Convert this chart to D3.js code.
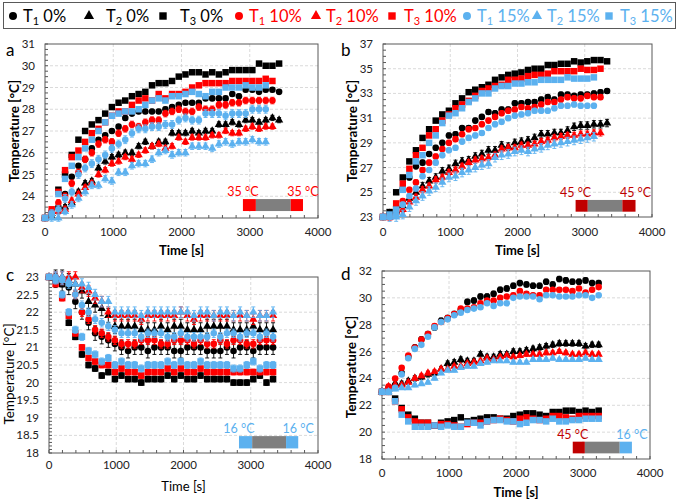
<!DOCTYPE html>
<html><head><meta charset="utf-8">
<script src="https://cdn.jsdelivr.net/npm/d3@7"></script>
<style>body{margin:0;background:#fff} svg{display:block}</style>
</head><body><svg id="chart" width="679" height="500"></svg>
<script>
// ---------- DATA ----------
const times = [0,98,196,294,392,490,588,686,784,882,980,1078,1176,1274,1372,1470,1568,1666,1764,1862,1960,2058,2156,2254,2352,2450,2548,2646,2744,2842,2940,3038,3136,3234,3332,3430];
const xTicks = [0,1000,2000,3000,4000];
const legendSubs = ["1","2","3","1","2","3","1","2","3"];
const legendPcts = ["0%","0%","0%","10%","10%","10%","15%","15%","15%"];

// panel a
const a_T1_0  = [23.0,23.1,23.5,24.1,24.9,25.4,25.7,26.2,26.6,26.8,27.0,27.2,27.6,27.8,27.9,27.9,27.9,27.9,28.0,28.1,28.2,28.3,28.3,28.3,28.5,28.5,28.5,28.5,28.7,28.6,28.9,28.9,28.8,28.9,28.9,28.8];
const a_T2_0  = [23.0,23.2,23.5,23.5,23.7,24.2,24.6,24.7,25.3,25.6,25.8,25.9,26.0,26.0,26.3,26.5,26.3,26.5,26.5,26.9,26.9,26.9,27.0,26.9,27.0,27.0,27.3,27.3,27.4,27.3,27.5,27.5,27.4,27.5,27.6,27.5];
const a_T3_0  = [23.0,23.2,24.3,25.0,25.9,26.6,27.0,27.3,27.5,27.8,28.1,28.3,28.4,28.6,28.7,28.8,29.1,29.2,29.2,29.3,29.5,29.6,29.7,29.7,29.6,29.7,29.6,29.7,29.8,29.8,29.8,29.8,30.1,30.0,30.0,30.1];
const a_T1_10 = [23.0,23.3,23.7,24.0,24.6,25.1,25.7,26.0,26.4,26.6,26.5,26.9,27.1,27.3,27.2,27.4,27.5,27.5,27.8,27.9,28.0,27.9,27.9,28.1,28.0,28.0,28.2,28.2,28.3,28.3,28.4,28.4,28.4,28.4,28.4];
const a_T2_10 = [23.0,23.3,23.3,23.4,23.8,24.1,24.4,24.6,25.0,25.2,25.5,25.6,25.8,25.7,25.9,26.1,26.3,26.4,26.2,26.3,26.7,26.5,26.7,26.7,26.7,26.8,26.8,27.0,26.9,26.9,27.1,27.2,27.1,27.2,27.2];
const a_T3_10 = [23.0,23.4,24.2,25.2,25.8,26.1,26.5,26.9,27.1,27.4,27.7,27.9,27.9,28.2,28.4,28.5,28.4,28.7,28.5,28.7,28.7,28.8,29.0,29.1,29.2,29.2,29.2,29.2,29.3,29.3,29.3,29.3,29.3,29.4,29.3];
const a_T1_15 = [23.0,23.2,23.4,23.9,24.2,25.0,25.3,25.5,25.7,25.9,26.2,26.4,26.6,26.9,27.1,27.1,27.2,27.2,27.3,27.3,27.5,27.6,27.5,27.5,27.8,27.8,27.8,27.7,27.8,27.8,27.8,28.0,28.0,28.0];
const a_T2_15 = [23.0,23.0,23.0,23.3,23.6,23.9,24.2,24.5,24.5,24.8,24.7,25.1,25.1,25.4,25.5,25.5,25.7,26.0,26.1,25.9,26.0,26.0,26.3,26.3,26.3,26.2,26.4,26.5,26.4,26.5,26.5,26.6,26.5,26.5];
const a_T3_15 = [23.0,23.2,24.1,24.8,25.4,25.8,26.2,26.6,27.0,27.4,27.7,27.8,27.9,27.9,28.0,28.2,28.4,28.5,28.4,28.6,28.6,28.7,28.8,28.7,28.6,28.8,28.8,29.0,29.0,29.0,29.1,29.0,29.0,29.1];
const a_err = [0.10,0.12,0.05,0.15,0.12,0.05,0.18,0.15,0.05];
const a_yTicks = [23,24,25,26,27,28,29,30,31];

// panel b
const b_T1_0  = [23.0,23.2,23.8,25.3,26.2,27.1,27.4,28.1,28.6,29.0,29.6,29.7,30.2,30.2,30.8,31.1,31.5,31.4,31.7,31.7,32.2,32.2,32.3,32.3,32.5,32.7,32.5,32.9,32.9,32.8,32.9,32.9,33.0,33.1,33.2];
const b_T2_0  = [23.0,23.3,23.5,23.9,24.5,25.0,25.5,25.9,26.2,26.7,26.9,27.3,27.5,27.6,27.9,28.1,28.4,28.4,28.8,28.7,29.0,29.1,29.2,29.4,29.7,29.7,29.8,29.8,30.0,30.3,30.4,30.4,30.5,30.5,30.6];
const b_T3_0  = [23.0,23.4,25.0,26.2,27.5,28.4,29.4,30.1,30.8,31.3,31.6,32.2,32.6,33.1,33.3,33.5,33.7,34.1,34.3,34.5,34.6,34.7,34.9,35.0,35.0,35.3,35.3,35.4,35.4,35.6,35.5,35.6,35.7,35.7,35.6];
const b_T1_10 = [23.0,23.0,23.6,24.3,25.2,25.8,26.8,27.4,27.9,28.5,29.0,29.3,29.7,30.1,30.2,30.5,30.8,31.1,31.4,31.6,31.7,31.9,31.8,31.9,32.1,32.3,32.3,32.5,32.7,32.6,32.6,32.8,32.7,32.7];
const b_T2_10 = [23.0,23.0,23.4,23.6,24.2,24.6,25.2,25.5,26.0,26.2,26.6,26.8,27.1,27.4,27.6,27.7,27.8,28.0,28.5,28.6,28.6,28.8,28.8,28.9,29.1,29.2,29.4,29.5,29.6,29.6,29.7,29.7,29.8,29.8];
const b_T3_10 = [23.0,23.0,24.1,25.7,26.9,28.0,28.6,29.6,30.1,30.8,31.3,31.8,32.1,32.4,32.8,33.2,33.4,33.6,33.7,34.1,34.1,34.2,34.4,34.5,34.5,34.6,34.8,34.8,34.8,34.8,35.0,34.9,34.9,35.0];
const b_T1_15 = [23.0,23.0,23.2,24.0,24.7,25.3,26.3,26.8,27.4,28.0,28.4,28.6,29.1,29.4,29.6,29.8,30.2,30.5,30.7,31.0,31.2,31.3,31.4,31.6,31.6,31.6,31.8,32.0,32.0,32.1,32.0,32.0,32.0];
const b_T2_15 = [23.0,23.0,23.0,23.2,23.8,24.3,24.7,25.1,25.4,25.8,26.2,26.3,26.6,26.8,27.0,27.2,27.3,27.8,28.0,28.1,28.3,28.4,28.3,28.5,28.6,28.8,28.9,29.0,29.1,29.2,29.3,29.4,29.5];
const b_T3_15 = [23.0,23.2,23.6,25.2,26.4,27.5,28.0,29.0,29.6,30.6,31.2,31.4,31.8,32.3,32.6,33.0,33.0,33.4,33.6,33.6,33.8,33.8,33.9,33.9,34.1,34.1,34.1,34.1,34.3,34.2,34.2,34.2,34.3];
const b_err = [0.2,0.3,0.15,0.2,0.25,0.1,0.2,0.35,0.15];
const b_yTicks = [23,25,27,29,31,33,35,37];

// panel c
const c_T1_0  = [23.0,22.9,22.8,22.7,22.3,22.0,21.7,21.4,21.3,21.2,21.1,21.0,20.9,21.0,21.0,20.9,21.0,21.0,21.0,20.9,20.9,21.0,21.0,21.0,20.9,20.9,20.9,21.0,20.9,21.0,21.0,20.9,21.0,21.0,21.0];
const c_T2_0  = [23.0,23.0,23.0,22.9,22.8,22.6,22.3,22.2,22.1,21.9,21.6,21.6,21.6,21.6,21.5,21.5,21.5,21.6,21.5,21.6,21.6,21.5,21.5,21.5,21.6,21.6,21.6,21.6,21.5,21.5,21.5,21.6,21.5,21.5,21.5];
const c_T3_0  = [23.0,22.9,22.8,21.7,21.3,20.8,20.5,20.4,20.2,20.3,20.1,20.2,20.1,20.1,20.0,20.1,20.1,20.1,20.2,20.1,20.2,20.1,20.1,20.2,20.1,20.1,20.1,20.1,20.0,20.0,20.0,20.1,20.2,20.0,20.1];
const c_T1_10 = [23.0,23.0,22.9,22.9,22.5,22.0,21.8,21.5,21.4,21.3,21.2,21.1,21.1,21.1,21.2,21.2,21.2,21.1,21.1,21.2,21.2,21.2,21.1,21.2,21.1,21.1,21.2,21.1,21.2,21.2,21.1,21.1,21.2,21.2,21.2];
const c_T2_10 = [23.0,23.0,23.0,23.0,23.0,22.7,22.6,22.4,22.3,22.0,21.9,21.9,21.9,21.9,21.8,21.9,21.9,21.9,21.9,21.9,22.0,21.9,21.8,21.9,21.9,21.9,21.9,21.9,21.9,21.9,21.9,21.8,21.9,21.9,21.9];
const c_T3_10 = [23.0,22.8,22.4,21.9,21.4,21.0,20.7,20.6,20.5,20.5,20.3,20.4,20.3,20.3,20.2,20.3,20.3,20.3,20.4,20.3,20.4,20.3,20.3,20.4,20.3,20.3,20.3,20.3,20.3,20.3,20.3,20.3,20.3,20.3,20.3];
const c_T1_15 = [23.0,23.0,22.9,22.8,22.5,22.2,22.0,21.8,21.7,21.6,21.5,21.4,21.4,21.4,21.3,21.4,21.4,21.4,21.3,21.3,21.4,21.3,21.3,21.3,21.3,21.4,21.3,21.4,21.4,21.3,21.4,21.4,21.3,21.4,21.3];
const c_T2_15 = [23.0,23.0,23.0,22.9,22.8,22.8,22.7,22.5,22.3,22.3,22.0,22.0,22.0,22.0,21.9,22.0,22.0,22.0,22.0,22.0,22.0,22.0,21.9,22.0,22.0,21.9,22.0,22.0,21.9,22.0,21.9,22.0,21.9,21.9,22.0];
const c_T3_15 = [23.0,22.9,22.5,22.0,21.5,21.3,20.9,20.8,20.6,20.7,20.5,20.6,20.5,20.5,20.4,20.5,20.5,20.5,20.6,20.5,20.6,20.5,20.5,20.6,20.5,20.5,20.5,20.5,20.4,20.4,20.5,20.6,20.4,20.5,20.5];
const c_err = [0.2,0.2,0.08,0.12,0.15,0.08,0.12,0.15,0.1];
const c_yTicks = [18,18.5,19,19.5,20,20.5,21,21.5,22,22.5,23];

// panel d
const d_T1_0  = [23.0,23.3,23.5,24.4,25.6,26.3,26.9,27.3,27.8,28.3,28.5,28.8,29.1,29.7,29.8,30.1,30.1,30.3,30.6,30.7,30.9,31.1,31.0,30.9,30.9,31.2,31.0,31.4,31.3,31.2,31.2,31.3,31.1,31.1];
const d_T2_0  = [23.0,23.2,23.6,23.6,23.8,24.0,24.1,24.3,24.4,24.7,25.1,25.2,25.4,25.3,25.3,25.8,25.6,25.6,25.8,25.8,26.0,26.0,26.1,26.2,26.3,26.4,26.5,26.6,26.6,26.6,26.6,26.4,26.5,26.5];
const d_T3_0  = [23.0,23.0,22.5,21.8,21.3,21.0,20.7,20.7,20.5,20.7,20.8,20.9,21.1,20.8,20.9,21.0,21.1,21.1,21.0,21.0,21.2,21.3,21.4,21.4,21.3,21.2,21.5,21.5,21.6,21.6,21.5,21.6,21.5,21.6];
const d_T1_10 = [23.0,23.4,24.0,24.8,25.7,26.3,26.9,27.3,27.9,28.2,28.5,28.8,29.2,29.2,29.3,29.6,29.8,29.8,30.0,30.1,30.2,30.5,30.3,30.2,30.2,30.6,30.6,30.6,30.6,30.5,30.7,30.4,30.6,30.8];
const d_T2_10 = [23.0,23.4,23.5,23.5,23.7,24.0,24.2,24.4,24.5,24.7,24.7,24.9,24.9,25.1,25.2,25.3,25.5,25.4,25.6,25.7,25.6,25.7,25.8,25.8,25.8,25.9,25.9,26.0,25.9,25.8,25.8,25.9,25.8,25.8];
const d_T3_10 = [23.0,23.0,22.3,21.7,21.1,20.8,20.7,20.7,20.5,20.6,20.6,20.5,20.4,20.6,20.7,20.7,20.8,20.9,21.0,20.9,20.8,21.0,21.1,21.0,20.9,21.0,21.2,21.2,21.1,21.0,21.2,21.2,21.2,21.2];
const d_T1_15 = [23.0,23.0,23.3,24.3,25.5,26.2,26.5,27.1,27.8,28.2,28.4,28.7,28.9,29.1,29.2,29.3,29.6,29.4,29.6,29.6,30.0,30.1,30.1,30.1,29.9,30.2,30.2,30.1,30.1,30.1,30.2,30.2,30.0,30.2];
const d_T2_15 = [23.0,23.0,23.2,23.3,23.3,23.5,23.6,23.7,24.0,24.4,24.6,24.6,24.8,24.9,24.9,25.1,25.2,25.3,25.3,25.3,25.2,25.2,25.2,25.4,25.4,25.4,25.5,25.4,25.4,25.4,25.4,25.5,25.4,25.4];
const d_T3_15 = [23.0,23.0,22.3,21.3,20.8,20.4,20.4,20.4,20.5,20.4,20.5,20.4,20.4,20.7,20.7,20.5,20.8,20.9,20.9,20.8,20.8,20.6,20.7,20.9,20.9,20.8,21.0,20.8,20.8,20.9,20.9,21.0,21.0,21.0];
const d_err = [0.2,0.2,0.1,0.15,0.15,0.1,0.12,0.12,0.1];
const d_yTicks = [18,20,22,24,26,28,30,32];

// ---------- STYLE / LAYOUT ----------
const FONT = "Lato, 'Open Sans', sans-serif";
const BLACK = "#000000", RED = "#ff0000", BLUE = "#5cb1ef", DARKRED = "#c00000", GRAY = "#7f7f7f";
const seriesColor = [BLACK,BLACK,BLACK,RED,RED,RED,BLUE,BLUE,BLUE];
const seriesShape = [d3.symbolCircle,d3.symbolTriangle,d3.symbolSquare,d3.symbolCircle,d3.symbolTriangle,d3.symbolSquare,d3.symbolCircle,d3.symbolTriangle,d3.symbolSquare];
const shapeSize = new Map([[d3.symbolCircle,34],[d3.symbolTriangle,30],[d3.symbolSquare,42]]);
const legendMarkerX = [13,89,163,239,316,392,467,537,609];
const legendTextX = [23,106,180,249,326,404,477,547,620];

const panels = [
  {key:"a", data:[a_T1_0,a_T2_0,a_T3_0,a_T1_10,a_T2_10,a_T3_10,a_T1_15,a_T2_15,a_T3_15], err:a_err,
   yTicks:a_yTicks, yDomain:[23,31], minor:4, box:[45,318,44,218], bold:true, xlabY:236, titleY:255, letter:[6,56], ytX:14, ytY:131,
   heater:{segs:[2900,3090,3600,3780], y:[23.32,23.87], colors:[RED,GRAY,RED], labels:["35 °C","35 °C"], lcol:[RED,RED]}},
  {key:"b", data:[b_T1_0,b_T2_0,b_T3_0,b_T1_10,b_T2_10,b_T3_10,b_T1_15,b_T2_15,b_T3_15], err:b_err,
   yTicks:b_yTicks, yDomain:[23,37], minor:4, box:[383,652,44,217], bold:true, xlabY:236, titleY:255, letter:[341,56], ytX:352, ytY:131,
   heater:{segs:[2864,3045,3559,3755], y:[23.43,24.38], colors:[DARKRED,GRAY,DARKRED], labels:["45 °C","45 °C"], lcol:[DARKRED,DARKRED]}},
  {key:"c", data:[c_T1_0,c_T2_0,c_T3_0,c_T1_10,c_T2_10,c_T3_10,c_T1_15,c_T2_15,c_T3_15], err:c_err,
   yTicks:c_yTicks, yDomain:[18,23], minor:5, box:[49,318,277,453], bold:false, xlabY:469, titleY:491, letter:[6,281], ytX:9, ytY:374,
   heater:{segs:[2825,3021,3525,3706], y:[18.13,18.48], colors:[BLUE,GRAY,BLUE], labels:["16 °C","16 °C"], lcol:[BLUE,BLUE]}},
  {key:"d", data:[d_T1_0,d_T2_0,d_T3_0,d_T1_10,d_T2_10,d_T3_10,d_T1_15,d_T2_15,d_T3_15], err:d_err,
   yTicks:d_yTicks, yDomain:[18,32], minor:4, box:[382,650,271,459], bold:true, xlabY:477, titleY:497, letter:[341,280], ytX:351, ytY:367,
   heater:{segs:[2847,3028,3548,3730], y:[18.42,19.29], colors:[DARKRED,GRAY,BLUE], labels:["45 °C","16 °C"], lcol:[DARKRED,BLUE]}}
];

const svg = d3.select("#chart").style("font-family", FONT);
svg.append("rect").attr("width",679).attr("height",500).attr("fill","#fff");

// legend
const lg = svg.append("g");
lg.append("rect").attr("x",3.5).attr("y",2.5).attr("width",672).attr("height",26)
  .attr("fill","#fff").attr("stroke","#595959").attr("stroke-width",1);
legendSubs.forEach((s,i)=>{
  lg.append("path").attr("d", d3.symbol(seriesShape[i], seriesShape[i]===d3.symbolSquare?55:(seriesShape[i]===d3.symbolTriangle?45:50))())
    .attr("transform",`translate(${legendMarkerX[i]},16)`).attr("fill",seriesColor[i]);
  const t = lg.append("text").attr("x",legendTextX[i]).attr("y",22).attr("font-size",16.5).attr("fill",seriesColor[i]);
  t.append("tspan").text("T");
  t.append("tspan").attr("font-size",11).attr("dy",3).text(s);
  t.append("tspan").attr("dy",-3).text(" "+legendPcts[i]);
});

panels.forEach(p=>{
  const [x0,x1,y0,y1] = p.box;
  const x = d3.scaleLinear().domain([0,4000]).range([x0,x1]);
  const y = d3.scaleLinear().domain(p.yDomain).range([y1,y0]);
  const g = svg.append("g");
  const step = p.yTicks[1]-p.yTicks[0];
  // grid
  g.selectAll(".gy").data(p.yTicks.slice(1,-1)).join("line")
    .attr("x1",x0).attr("x2",x1).attr("y1",d=>y(d)).attr("y2",d=>y(d))
    .attr("stroke","#d0d0d0").attr("stroke-dasharray","3,2").attr("stroke-width",0.8);
  g.selectAll(".gx").data(xTicks.slice(1,-1)).join("line")
    .attr("y1",y0).attr("y2",y1).attr("x1",d=>x(d)).attr("x2",d=>x(d))
    .attr("stroke","#d0d0d0").attr("stroke-dasharray","3,2").attr("stroke-width",0.8);
  // frame
  g.append("rect").attr("x",x0).attr("y",y0).attr("width",x1-x0).attr("height",y1-y0)
    .attr("fill","none").attr("stroke","#595959").attr("stroke-width",1);
  // minor ticks
  const ymin = d3.range(p.yDomain[0], p.yDomain[1]+1e-9, step/p.minor);
  g.selectAll(".ty").data(ymin).join("line").attr("x1",x0).attr("x2",x0+3)
    .attr("y1",d=>y(d)).attr("y2",d=>y(d)).attr("stroke","#595959");
  g.selectAll(".tx").data(d3.range(0,4001,200)).join("line").attr("y1",y1).attr("y2",y1-3)
    .attr("x1",d=>x(d)).attr("x2",d=>x(d)).attr("stroke","#595959");
  // tick labels
  g.selectAll(".ly").data(p.yTicks).join("text").attr("x",x0-10).attr("y",d=>y(d)+4)
    .attr("text-anchor","end").attr("font-size",11.5).attr("fill","#222").text(d=>d);
  g.selectAll(".lx").data(xTicks).join("text").attr("x",d=>x(d)).attr("y",p.xlabY)
    .attr("text-anchor","middle").attr("font-size",11.5).attr("fill","#222").text(d=>d);
  // axis titles
  g.append("text").attr("x",(x0+x1)/2).attr("y",p.titleY).attr("text-anchor","middle")
    .attr("font-size",13).attr("font-weight",p.bold?"bold":"normal").text("Time [s]");
  g.append("text").attr("transform",`translate(${p.ytX},${p.ytY}) rotate(-90)`).attr("text-anchor","middle")
    .attr("dominant-baseline","central")
    .attr("font-size",p.bold?13.5:13.5).attr("font-weight",p.bold?"bold":"normal").text("Temperature [°C]");
  g.append("text").attr("x",p.letter[0]).attr("y",p.letter[1]).attr("font-size",17).text(p.key);
  // heater bar
  const h = p.heater;
  for(let k=0;k<3;k++){
    g.append("rect").attr("x",x(h.segs[k])).attr("width",x(h.segs[k+1])-x(h.segs[k]))
      .attr("y",y(h.y[1])).attr("height",y(h.y[0])-y(h.y[1])).attr("fill",h.colors[k]);
  }
  g.append("text").attr("x",x(h.segs[0])).attr("y",y(h.y[1])-3).attr("text-anchor","middle")
    .attr("font-size",12.5).attr("fill",h.lcol[0]).text(h.labels[0]);
  g.append("text").attr("x",x(h.segs[3])).attr("y",y(h.y[1])-3).attr("text-anchor","middle")
    .attr("font-size",12.5).attr("fill",h.lcol[1]).text(h.labels[1]);
  // series
  p.data.forEach((vals,si)=>{
    const pts = vals.map((v,i)=>({t:times[i], v}));
    const e = p.err[si];
    const sg = g.append("g");
    sg.selectAll("line.e").data(pts.slice(1)).join("line")
      .attr("x1",d=>x(d.t)).attr("x2",d=>x(d.t)).attr("y1",d=>y(d.v-e)).attr("y2",d=>y(d.v+e))
      .attr("stroke",seriesColor[si]).attr("stroke-width",0.9);
    [-1,1].forEach(sgn=>{
      sg.selectAll(null).data(pts.slice(1)).join("line")
        .attr("x1",d=>x(d.t)-2).attr("x2",d=>x(d.t)+2).attr("y1",d=>y(d.v+sgn*e)).attr("y2",d=>y(d.v+sgn*e))
        .attr("stroke",seriesColor[si]).attr("stroke-width",0.9);
    });
    sg.selectAll("path").data(pts).join("path")
      .attr("d", d3.symbol(seriesShape[si], shapeSize.get(seriesShape[si]))())
      .attr("transform",d=>`translate(${x(d.t)},${y(d.v)})`).attr("fill",seriesColor[si]);
  });
});
</script></body></html>
